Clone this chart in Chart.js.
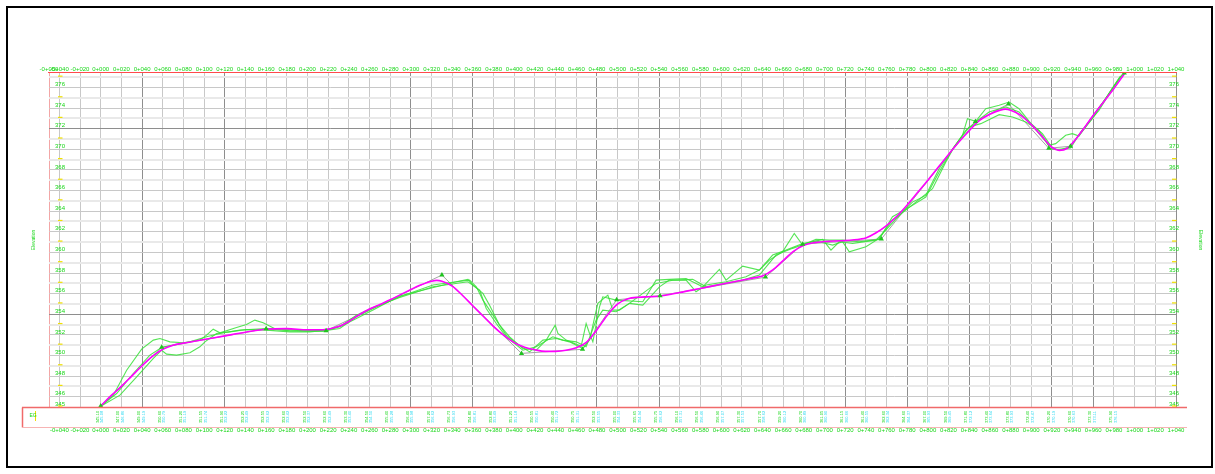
<!DOCTYPE html>
<html>
<head>
<meta charset="utf-8">
<script src="https://cdn.jsdelivr.net/npm/chart.js@4.4.1/dist/chart.umd.min.js"></script>
<style>
  html, body { margin: 0; padding: 0; background: #ffffff; }
  canvas { display: block; }
</style>
</head>
<body>
<canvas id="profile" width="1215" height="474"></canvas>
<script>
// ---- Vertical alignment (design grade line), station in m, elevation in m ----
const designStations = [0,10,20,30,40,50,60,70,80,100,120,140,160,180,200,215,230,240,250,260,270,280,290,300,310,320,325,330,340,350,360,370,380,390,400,410,420,430,440,450,460,470,480,490,500,510,520,530,540,560,580,600,620,630,640,650,660,670,680,690,700,720,735,740,750,760,770,780,790,800,820,830,840,850,860,870,875,880,890,900,910,920,927,935,940,950,960,970,980,990];
const designElevations = [345.1,346.1,347.0,348.0,349.0,349.9,350.6,351.0,351.2,351.55,351.9,352.25,352.55,352.6,352.5,352.5,352.8,353.3,353.95,354.5,354.95,355.4,355.9,356.4,356.85,357.2,357.28,357.2,356.73,355.82,354.8,353.8,352.8,351.95,351.25,350.8,350.55,350.4,350.4,350.5,350.75,351.3,352.5,353.9,355.0,355.5,355.65,355.7,355.75,356.1,356.5,356.9,357.3,357.5,357.7,358.3,359.2,360.1,360.7,360.95,361.05,361.15,361.3,361.4,361.9,362.6,363.5,364.6,365.8,367.0,369.5,370.7,371.8,372.8,373.4,373.8,373.9,373.8,373.3,372.4,371.3,370.2,369.9,370.1,370.6,371.9,373.3,374.6,375.9,377.3];

// ---- Points of vertical intersection (tangent polygon) ----
const pviStations = [0,59,160,218,330,407,466,499,541,643,679,755,846,878,917,938,990];
const pviElevations = [345.1,350.8,352.6,352.4,357.8,350.2,350.6,355.4,355.8,357.6,360.8,361.3,372.7,374.4,370.1,370.3,377.4];

// ---- Existing ground surveys ----
const survey1Stations = [0,12.2,25.1,39.6,50.9,57.3,67,79.8,95.9,102.4,108.8,115.3,131.4,141,149.1,157.1,170,199,215.1,231.2,247.3,263.4,289.2,321.4,343.9,355.2,360,369.7,376.1,385.8,395.5,408.3,421.2,430.9,439.6,442.2,450.2,464.7,469.5,472.8,476,482.4,485.6,498.5,524.3,537.2,550,566.2,582.3,598.4,604.8,620.9,637,646.7,659.5,670.8,678.9,691.8,704.6,717.5,733.6,752.9,765.8,785.1,798,810.9,823.8,833.5,838.3,846.3,856,869,878.6,888.2,901.1,907.5,917.2,923.6,933.3,939.7,946.2,959.1,971.9,984.8,989.7];
const survey1Elevations = [345.08,346.15,348.57,350.61,351.49,351.65,351.32,351.23,351.49,351.97,352.55,352.2,352.72,353.01,353.43,353.17,352.52,352.39,352.39,352.62,353.75,354.56,355.69,356.83,357.15,357.38,356.83,356.02,354.88,352.94,351.81,350.68,350.51,351.49,352.94,352.13,351.49,350.9,353.1,352.13,351.32,354.72,355.69,355.37,355.21,357.31,357.38,357.47,356.66,358.35,357.31,358.67,358.28,359.25,360.06,361.84,360.71,361.26,361.19,361.19,361.03,361.26,363.46,364.56,365.37,367.8,370.0,371.36,372.97,372.72,373.94,374.27,374.59,373.94,372.33,371.52,370.39,370.55,371.36,371.52,371.29,373.14,374.92,376.86,377.34];

const survey2Stations = [0,15.4,31.5,47.6,58.9,70.2,86.3,102.4,118.5,134.6,160.4,182.9,215.1,231.2,247.3,263.4,289.2,321.4,355.2,366.5,372.9,382.6,392.2,408.3,421.2,437.3,447,459.9,469.5,479.2,485.6,498.5,511.4,524.3,540.4,550,566.2,575.8,585.5,604.8,624.1,637,649.9,662.8,678.9,691.8,707.9,717.5,724,740.1,752.9,765.8,772.3,785.1,798,810.9,823.8,836.7,846.3,859.2,875.3,888.2,897.9,910.8,920.4,926.9,936.5,946.2,959.1,971.9,986.4];
const survey2Elevations = [345.08,346.31,348.25,350.03,350.77,351.0,351.32,351.81,352.2,352.46,352.62,352.39,352.36,352.78,353.91,354.66,355.63,356.66,357.15,356.34,354.56,353.1,351.81,350.51,350.84,351.81,351.49,351.32,350.84,353.43,354.4,354.24,355.05,354.88,356.66,357.31,357.31,356.18,356.83,357.15,357.63,358.28,359.74,360.22,360.87,361.1,360.71,361.03,360.06,360.55,361.36,363.14,363.59,364.88,365.53,368.12,370.0,371.84,372.65,373.62,374.11,373.62,372.65,371.52,370.13,369.9,370.22,371.36,372.97,374.92,377.12];

const survey3Stations = [0,18.6,34.8,50.9,58.9,63.7,73.4,86.3,95.9,100.8,112,124.9,141,160.4,182.9,202.2,218.3,234.4,247.3,263.4,289.2,343.9,356.8,363.3,369.7,382.6,392.2,401.9,414.8,427.7,440.6,453.4,466.3,472.8,480.8,490.5,495.3,501.7,511.4,537.2,553.3,572.6,585.5,620.9,637,653.1,669.2,682.1,698.2,706.3,714.3,727.2,749.7,759.4,772.3,788.4,804.5,817.4,825.4,839.9,851.2,869,881.9,894.7,907.5,918.8,926.9,938.1,947.8,965.5,978.4,988];
const survey3Elevations = [345.08,346.15,347.93,349.71,350.51,350.13,350.03,350.26,350.84,351.32,352.13,352.29,352.52,352.46,352.29,352.29,352.46,352.94,353.59,354.4,355.76,357.15,357.31,356.66,355.37,353.43,351.97,351.16,350.35,351.49,351.65,351.32,350.68,351.49,355.05,355.85,354.4,354.4,355.05,356.99,357.3,357.38,356.66,357.31,357.8,359.74,360.39,360.87,361.26,360.22,361.03,360.87,361.19,362.17,363.6,364.88,366.18,368.77,370.22,372.16,372.49,373.36,373.14,372.65,371.84,370.0,370.0,370.13,371.68,373.78,375.89,377.25];

// ---- Axis ticks ----
const topStationTicks = [-50];
for (let s = -40; s <= 1040; s += 20) topStationTicks.push(s);
const bottomStationTicks = [];
for (let s = -40; s <= 1040; s += 20) bottomStationTicks.push(s);
const elevationTicks = [];
for (let e = 345; e <= 377; e += 1) elevationTicks.push(e);
elevationTicks.push(377.5);
const bandStations = [];
for (let s = 0; s <= 980; s += 20) bandStations.push(s);
const heavyStationLines = [40, 120, 300, 360, 480, 540, 720, 780, 840, 920, 960, 1040];
const heavyElevationLines = [354, 372];

const TEXT_GREEN = '#16d616';
const FONT = 'Liberation Sans';

function toPoints(xs, ys) { return xs.map((x, i) => ({ x: x, y: ys[i] })); }
function fmtStation(v) {
  const sign = v < 0 ? '-' : '';
  const a = Math.abs(v);
  const km = Math.floor(a / 1000);
  const m = Math.round(a - km * 1000);
  return sign + km + '+' + String(m).padStart(3, '0');
}
function elevLabel(v) {
  return (v === 345 || (Number.isInteger(v) && v % 2 === 0)) ? String(v) : '';
}
function interp(xs, ys, x) {
  for (let i = 0; i < xs.length - 1; i++) {
    if (x >= xs[i] && x <= xs[i + 1]) {
      const t = (x - xs[i]) / (xs[i + 1] - xs[i]);
      return ys[i] + t * (ys[i + 1] - ys[i]);
    }
  }
  return ys[ys.length - 1];
}

// Frame, data strip, elevation markers and captions
const profileDecor = {
  id: 'profileDecor',
  afterDraw(chart) {
    const c = chart.ctx;
    const xs = chart.scales.x, ys = chart.scales.y;
    const area = chart.chartArea;
    c.save();

    // outer sheet frame
    c.strokeStyle = '#000';
    c.lineWidth = 2;
    c.strokeRect(7, 7, 1205, 460);

    // top border of grid
    c.strokeStyle = '#ff4a4a';
    c.lineWidth = 1.2;
    c.beginPath(); c.moveTo(area.left - 1, area.top + 0.5); c.lineTo(area.right + 1, area.top + 0.5); c.stroke();

    // data strip below the grid
    const bandTop = area.bottom + 0.5, bandBottom = 427.5;
    c.strokeStyle = '#f06a6a';
    c.lineWidth = 1.5;
    c.beginPath(); c.moveTo(22, bandTop); c.lineTo(1187, bandTop); c.stroke();
    c.beginPath(); c.moveTo(22.5, bandTop); c.lineTo(22.5, bandBottom); c.stroke();
    c.strokeStyle = '#f7b4b4';
    c.lineWidth = 1;
    c.beginPath(); c.moveTo(22, bandBottom); c.lineTo(1187, bandBottom); c.stroke();

    c.strokeStyle = '#f0e000';
    c.lineWidth = 1;
    c.beginPath(); c.moveTo(35.5, 411); c.lineTo(35.5, 421); c.stroke();
    c.fillStyle = TEXT_GREEN;
    c.font = '5px ' + FONT;
    c.textAlign = 'center';
    c.textBaseline = 'middle';
    c.fillText('EG', 33, 416);

    // elevation values in the strip
    c.font = '4px ' + FONT;
    bandStations.forEach(s => {
      const px = xs.getPixelForValue(s);
      const design = interp(designStations, designElevations, s).toFixed(2);
      const ground = interp(survey2Stations, survey2Elevations, s).toFixed(2);
      [[design, px - 3, TEXT_GREEN], [ground, px + 1.5, '#2ad8f0']].forEach(([t, x, col]) => {
        c.save();
        c.translate(x, 417);
        c.rotate(-Math.PI / 2);
        c.fillStyle = col;
        c.fillText(t, 0, 0);
        c.restore();
      });
    });

    // odd-metre markers in both label columns
    c.strokeStyle = '#f0e000';
    c.lineWidth = 1.2;
    elevationTicks.filter(v => Number.isInteger(v) && v % 2 === 1).forEach(v => {
      const py = ys.getPixelForValue(v) - 1;
      c.beginPath(); c.moveTo(58, py); c.lineTo(62.5, py); c.stroke();
      c.beginPath(); c.moveTo(1172, py); c.lineTo(1176.5, py); c.stroke();
    });

    // axis captions
    c.fillStyle = TEXT_GREEN;
    c.font = '5px ' + FONT;
    c.save(); c.translate(34, 240); c.rotate(-Math.PI / 2); c.fillText('Elevation', 0, 0); c.restore();
    c.save(); c.translate(1200, 240); c.rotate(Math.PI / 2); c.fillText('Elevation', 0, 0); c.restore();

    c.restore();
  }
};

const tickFont = { size: 6, family: FONT };

new Chart(document.getElementById('profile'), {
  type: 'scatter',
  data: {
    datasets: [
      {
        label: 'PVI',
        data: toPoints(pviStations, pviElevations),
        showLine: false,
        pointStyle: 'triangle',
        pointRadius: 3,
        pointBackgroundColor: '#1fc41f',
        pointBorderWidth: 0
      },
      {
        label: 'Design profile',
        data: toPoints(designStations, designElevations),
        showLine: true,
        borderColor: '#ff00ff',
        borderWidth: 1.6,
        pointRadius: 0,
        cubicInterpolationMode: 'monotone'
      },
      {
        label: 'Ground 1',
        data: toPoints(survey1Stations, survey1Elevations),
        showLine: true,
        borderColor: 'rgba(55,225,55,0.85)',
        borderWidth: 1.1,
        pointRadius: 0
      },
      {
        label: 'Ground 2',
        data: toPoints(survey2Stations, survey2Elevations),
        showLine: true,
        borderColor: 'rgba(55,225,55,0.85)',
        borderWidth: 1.1,
        pointRadius: 0
      },
      {
        label: 'Ground 3',
        data: toPoints(survey3Stations, survey3Elevations),
        showLine: true,
        borderColor: 'rgba(55,225,55,0.85)',
        borderWidth: 1.1,
        pointRadius: 0
      },
      {
        label: 'Tangents',
        data: toPoints(pviStations, pviElevations),
        showLine: true,
        borderColor: '#a3a3a3',
        borderWidth: 1,
        pointRadius: 0
      }
    ]
  },
  options: {
    responsive: false,
    animation: false,
    events: [],
    layout: { padding: 0 },
    plugins: { legend: { display: false }, tooltip: { enabled: false } },
    scales: {
      x: {
        type: 'linear', position: 'top', min: -50, max: 1040,
        afterBuildTicks: s => { s.ticks = topStationTicks.map(v => ({ value: v })); },
        afterFit: s => { s.height = 72; },
        ticks: { autoSkip: false, maxRotation: 0, minRotation: 0, padding: -1, color: TEXT_GREEN, font: tickFont, callback: v => fmtStation(v) },
        grid: {
          drawTicks: false, lineWidth: 1,
          color: ctx => {
            const v = ctx.tick ? ctx.tick.value : null;
            if (v === -50) return '#f3a6a6';
            if (heavyStationLines.includes(v)) return '#8e8e8e';
            return '#c8c8c8';
          }
        },
        border: { display: false }
      },
      x2: {
        type: 'linear', position: 'bottom', min: -50, max: 1040,
        afterBuildTicks: s => { s.ticks = bottomStationTicks.map(v => ({ value: v })); },
        afterFit: s => { s.height = 67; },
        ticks: { autoSkip: false, maxRotation: 0, minRotation: 0, padding: 20, color: TEXT_GREEN, font: tickFont, callback: v => fmtStation(v) },
        grid: { display: false, drawTicks: false },
        border: { display: false }
      },
      y: {
        type: 'linear', position: 'left', min: 345, max: 377.5,
        afterBuildTicks: s => { s.ticks = elevationTicks.map(v => ({ value: v })); },
        afterFit: s => { s.width = 49; },
        ticks: { autoSkip: false, mirror: true, padding: 6, labelOffset: -3, color: TEXT_GREEN, font: tickFont, callback: elevLabel },
        grid: {
          drawTicks: false,
          color: ctx => {
            const v = ctx.tick ? ctx.tick.value : null;
            if (v === 345 || v === 377.5) return 'rgba(0,0,0,0)';
            if (heavyElevationLines.includes(v)) return '#8e8e8e';
            return v % 2 === 0 ? '#c8c8c8' : '#e9e9e9';
          },
          lineWidth: ctx => (ctx.tick && ctx.tick.value % 2 === 1) ? 2 : 1
        },
        border: { display: false }
      },
      y2: {
        type: 'linear', position: 'right', min: 345, max: 377.5,
        afterBuildTicks: s => { s.ticks = elevationTicks.map(v => ({ value: v })); },
        afterFit: s => { s.width = 39; },
        ticks: { autoSkip: false, mirror: true, padding: 3, labelOffset: -3, color: TEXT_GREEN, font: tickFont, callback: elevLabel },
        grid: { display: false, drawTicks: false },
        border: { display: false }
      }
    }
  },
  plugins: [profileDecor]
});
</script>
</body>
</html>
